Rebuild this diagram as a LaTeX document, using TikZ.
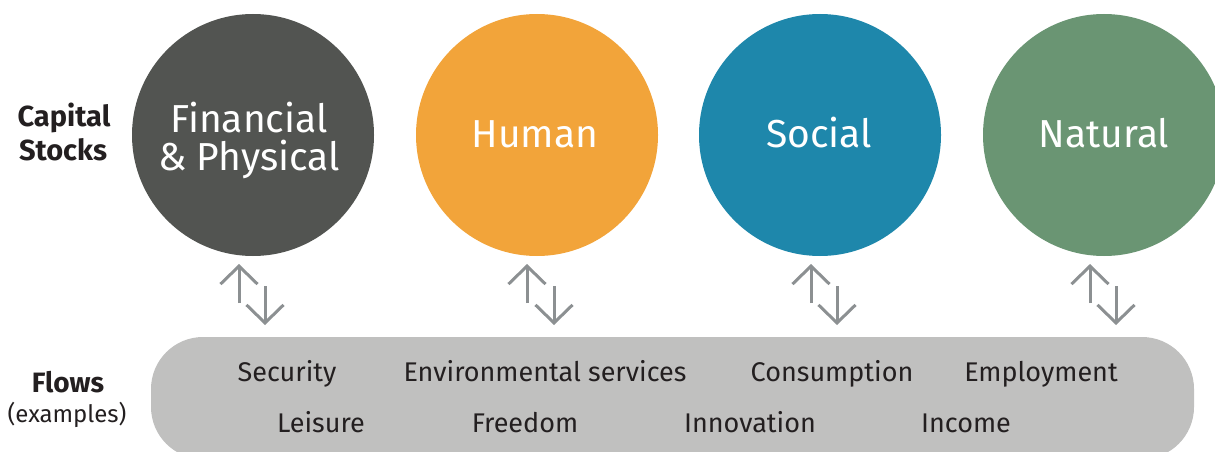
\documentclass[tikz,border=0pt]{standalone}
\usepackage{fontspec}
\setmainfont{Fira Sans}
\usetikzlibrary{arrows.meta}
\definecolor{cfin}{HTML}{525451}
\definecolor{chum}{HTML}{F2A43A}
\definecolor{csoc}{HTML}{1E87AB}
\definecolor{cnat}{HTML}{6A9573}
\definecolor{cbar}{HTML}{C0C0BF}
\definecolor{carr}{HTML}{8C9092}
\definecolor{ctxt}{HTML}{231F20}
\tikzset{
  stock/.style={circle, minimum size=242pt, inner sep=0pt},
  stocktxt/.style={text=white, inner sep=0pt, anchor=base, font=\fontsize{39}{38}\selectfont},
  flowtxt/.style={text=ctxt, inner sep=0pt, anchor=base, font=\fontsize{27}{30}\selectfont},
  sidelbl/.style={text=ctxt, inner sep=0pt, anchor=base},
  flowarrow/.style={draw=carr, line width=3pt, -{Straight Barb[length=18pt,width=37pt]}}
}
\begin{document}
\begin{tikzpicture}[x=1pt,y=-1pt]
\useasboundingbox (0,0) rectangle (1215,452);
\begin{scope}
\clip (0,0) rectangle (1215,452);
\node[fill=cbar, rounded corners=52pt, minimum width=1043pt, minimum height=122pt, inner sep=0pt] (flows) at (672.5,398) {};
\end{scope}
\node[stock, fill=cfin] (fin) at (253,135) {};
\node[stock, fill=chum] (hum) at (537,135) {};
\node[stock, fill=csoc] (soc) at (820,135) {};
\node[stock, fill=cnat] (nat) at (1104,135) {};
\node[stocktxt] (fin1) at (249,132) {Financial};
\node[stocktxt] (fin2) at (249,170) {\& Physical};
\node[stocktxt] (humt) at (535,147) {Human};
\node[stocktxt] (soct) at (819,147) {Social};
\node[stocktxt] (natt) at (1104,147) {Natural};
\node[sidelbl, font=\fontsize{29}{34}\selectfont\bfseries] (cap1) at (64,126) {Capital};
\node[sidelbl, font=\fontsize{29}{34}\selectfont\bfseries] (cap2) at (63,160) {Stocks};
\node[sidelbl, font=\fontsize{28}{30}\selectfont\bfseries] (flw) at (68,392) {Flows};
\node[sidelbl, font=\fontsize{24}{28}\selectfont] (ex) at (67,422) {(examples)};
% flow texts
\node[flowtxt] (t1) at (287,381) {Security};
\node[flowtxt] (t2) at (545,381) {Environmental services};
\node[flowtxt] (t3) at (832,381) {Consumption};
\node[flowtxt] (t4) at (1041,381) {Employment};
\node[flowtxt] (t5) at (321,432) {Leisure};
\node[flowtxt] (t6) at (525,432) {Freedom};
\node[flowtxt] (t7) at (750,432) {Innovation};
\node[flowtxt] (t8) at (966,432) {Income};
% arrow endpoints
\foreach \n/\u/\d in {1/239/265, 2/527/554, 3/811/837, 4/1090/1116}{
  \coordinate (ua\n) at (\u,303);
  \coordinate (ub\n) at (\u,264);
  \coordinate (da\n) at (\d,286);
  \coordinate (db\n) at (\d,325);
  \draw[flowarrow] (ua\n) -- (ub\n);
  \draw[flowarrow] (da\n) -- (db\n);
}
\end{tikzpicture}
\end{document}
